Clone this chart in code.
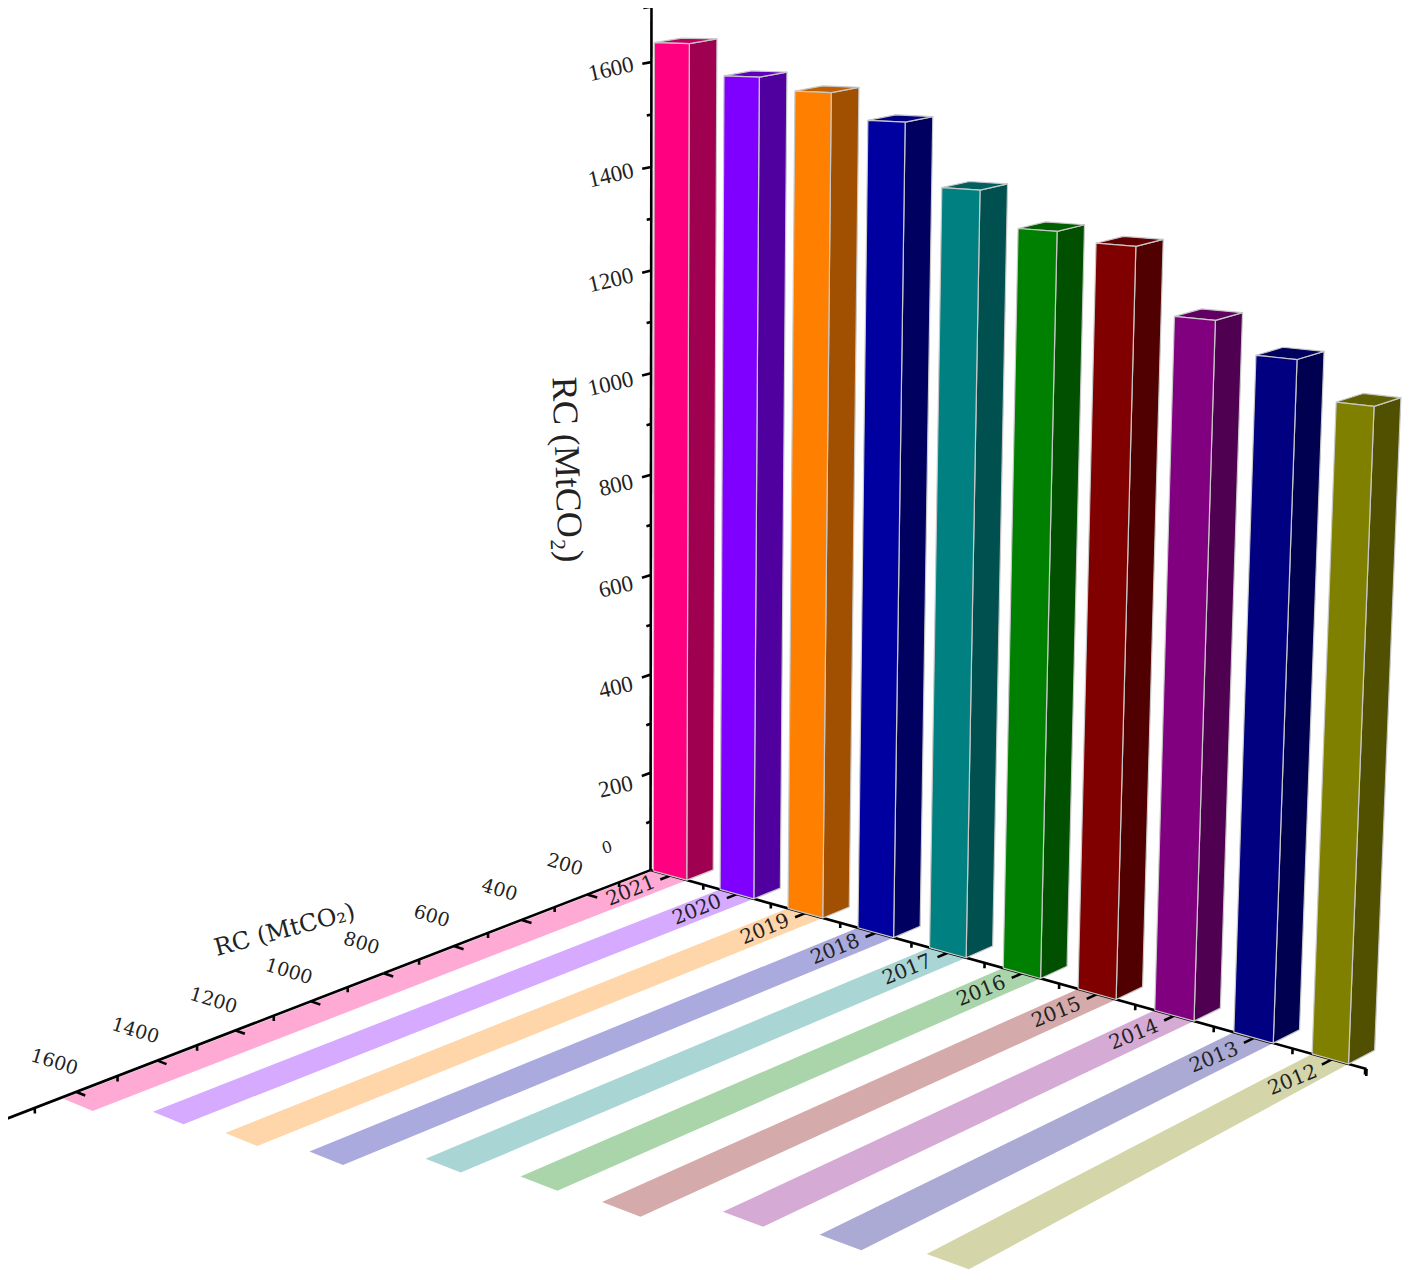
import numpy as np, pandas as pd, altair as alt

YEARS = [2021, 2020, 2019, 2018, 2017, 2016, 2015, 2014, 2013, 2012]
RC = [1637, 1579, 1556, 1509, 1397, 1335, 1320, 1208, 1157, 1095]
RC_FLOOR = [1637, 1564, 1539, 1493, 1378, 1321, 1304, 1199, 1161, 1103]
FRONT = ["#FF0080", "#8000FF", "#FF8000", "#0000A0", "#008080", "#008000", "#800000", "#800080", "#000080", "#808000"]
SIDE = ["#A00050", "#50009F", "#A05000", "#000060", "#005050", "#005000", "#500000", "#500050", "#000050", "#505000"]
TOP = ["#C00060", "#6000BF", "#C06000", "#000080", "#006060", "#006000", "#600000", "#600060", "#000060", "#606000"]
PALE = ["#FFAAD5", "#D5AAFF", "#FFD5AA", "#AAAADF", "#AAD5D5", "#AAD5AA", "#D5AAAA", "#D5AAD5", "#AAAAD5", "#D5D5AA"]
Z_TICKS = [0, 200, 400, 600, 800, 1000, 1200, 1400, 1600]
Y_TICKS = [200, 400, 600, 800, 1000, 1200, 1400, 1600]

# perspective camera of the 3D scene: (year index, floor RC, height RC) -> page position
P = np.array([[49.0654, -0.368854, -0.0164337, 674.329],
              [0.918505, 0.0494037, -0.510247, 876.71],
              [-0.0184467, -8.2164e-05, -2.60975e-05, 1.0]])
X0 = -.29
X1 = 9.52
# small lens correction of the year axis, strongest at the back wall
LENS_AT = [X0, 0, 1, 2, 3, 4, 5, 6, 7, 8, 9, X1]
LENS = [-.10, -.065, 0, .05, .09, .11, .12, .10, .07, .03, -.07, -.20]
LENS_FAR = -.06

def proj(X, Y, Z):
    t = min(max(Y, 0) / 1600, 1)
    Xw = X + float(np.interp(X, LENS_AT, LENS)) * (1 - t) + LENS_FAR * t
    h = P @ np.array([Xw, Y, Z, 1.0])
    return h[0] / h[2], h[1] / h[2]

SX = alt.Scale(domain=[8, 1409], range=[0, 1401], nice=False, zero=False)
SY = alt.Scale(domain=[8, 1272], range=[0, 1264], nice=False, zero=False)
XE = alt.X('x:Q', scale=SX, axis=None)
YE = alt.Y('y:Q', scale=SY, axis=None)

def poly_rows(items):
    rows = []
    for n, (pts, col) in enumerate(items):
        for k, w in enumerate(pts + [pts[0]]):
            x, y = proj(*w)
            rows.append(dict(g=n, k=k, x=x, y=y, c=col))
    return pd.DataFrame(rows)

H = .25
D = -85
strips, fronts, sides, tops_ = [], [], [], []
for i, v in enumerate(RC):
    a, b_ = i - H, i + H
    f = RC_FLOOR[i]
    strips.append(([(a, 0, 0), (b_, 0, 0), (b_, f, 0), (a, f, 0)], PALE[i]))
    fronts.append(([(a, 0, 0), (b_, 0, 0), (b_, 0, v), (a, 0, v)], FRONT[i]))
    sides.append(([(b_, 0, 0), (b_, D, 0), (b_, D, v), (b_, 0, v)], SIDE[i]))
    tops_.append(([(a, 0, v), (b_, 0, v), (b_, D, v), (a, D, v)], TOP[i]))

def polys(items, edge=True):
    m = alt.Chart(poly_rows(items)).mark_line(stroke="#C8C8C8" if edge else "transparent", strokeWidth=1.2 if edge else 0, strokeJoin="round")
    return m.encode(x=XE, y=YE, order='k:Q', detail='g:N', fill=alt.Fill('c:N', scale=None))

segs = []
def seg(w1, w2):
    segs.append((len(segs), w1, w2))
seg((X0, 0, 0), (X0, 0, 1705))
seg((X0, 0, 0), (X1, 0, 0))
seg((X0, 0, 0), (X0, 800, 0))
seg((X0, 800, 0), (X0, 1770, 0))
seg((X0, 0, 1705), (X0, 25, 1705))
for z in Z_TICKS[1:]:
    seg((X0, 0, z), (X0, 28, z))
for z in [100, 300, 500, 700, 900, 1100, 1300, 1500]:
    seg((X0, 0, z), (X0, 14, z))
for y in Y_TICKS:
    seg((X0, y, 0), (X0 + .15, y, 0))
for y in [100, 300, 500, 700, 900, 1100, 1300, 1500, 1700]:
    seg((X0, y, 0), (X0, y, -10))
for i in range(10):
    seg((i, 0, 0), (i, 32, 0))
    seg((i + .5, 0, 0), (i + .5, 0, -10))
seg((X1, 0, 0), (X1, 0, -12))
rows = []
for n, a, b_ in segs:
    for k, p in enumerate((a, b_)):
        x, y = proj(*p)
        rows.append(dict(g=n, k=k, x=x, y=y))
axes = alt.Chart(pd.DataFrame(rows)).mark_line(color="black", strokeWidth=2.6).encode(x=XE, y=YE, order='k:Q', detail='g:N')

def labels(tbl, angle, size, font, **kw):
    return alt.Chart(pd.DataFrame(tbl)).mark_text(angle=angle, fontSize=size, font=font, color="#222222", baseline="middle", **kw).encode(x=XE, y=YE, text='t:N')

zl = []
for z in Z_TICKS[1:]:
    x, y = proj(X0, 0, z - .012 * (1600 - z))
    zl.append(dict(x=x, y=y, t=str(z)))
zero = [dict(zip('xy', proj(X0, 0, 70)), t="0")]
yl = []
for y in Y_TICKS:
    x, yy = proj(X0, y, 0)
    yl.append(dict(x=x, y=yy, t=str(y)))
xl = []
for i, yr in enumerate(YEARS):
    x, yy = proj(i, 125, 0)
    xl.append(dict(x=x, y=yy, t=str(yr)))
ztitle = [dict(zip('xy', proj(X0, 0, 800)), t="RC (MtCO₂)")]
ytitle = [dict(zip('xy', proj(X0, 900, 0)), t="RC (MtCO₂)")]

chart = alt.layer(
    polys(strips, False), axes,
    labels(xl, 338, 20, "DejaVu Serif"),
    polys(sides), polys(tops_), polys(fronts),
    labels(zl, 347, 23, "Liberation Serif", align="right", dx=-18, dy=-2),
    labels(zero, 345, 16, "DejaVu Serif", dx=-45),
    labels(yl, 17, 19, "DejaVu Serif", dx=-30, dy=-22),
    labels(ztitle, 88, 36, "Liberation Serif", dx=-8, dy=84),
    labels(ytitle, 345, 24, "DejaVu Serif", dx=-46, dy=-71),
).properties(width=1401, height=1264, padding=0, autosize=alt.AutoSizeParams(type="none")).configure_view(stroke=None)
chart.save("out.html", embed_options={"renderer": "svg", "actions": False})
